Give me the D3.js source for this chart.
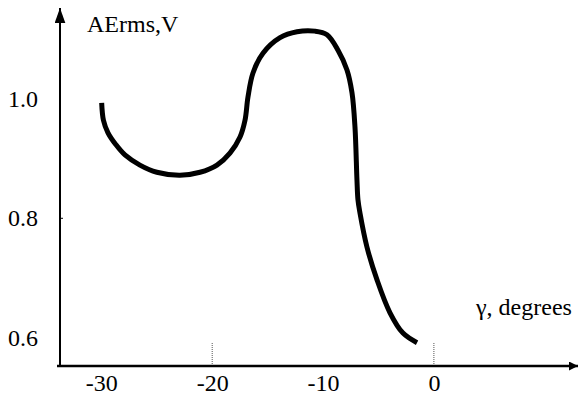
<!DOCTYPE html>
<html><head><meta charset="utf-8"><script src="https://cdn.jsdelivr.net/npm/d3@7"></script></head>
<body style="margin:0">
<svg id="s" width="581" height="396"></svg>
<script>
// ---- data ----
const gammaDeg = [-29.97, -29.81, -29.40, -28.68, -27.87, -26.52, -24.99, -22.91, -21.10, -19.57, -18.40,
                  -17.49, -17.04, -16.77, -16.32, -15.42, -13.88, -12.35, -10.73, -9.64, -8.65,
                  -7.84, -7.39, -7.12, -6.94, -6.85, -6.67, -6.04, -5.13, -3.96, -2.79, -1.52];
const aeRms    = [0.993, 0.964, 0.943, 0.923, 0.906, 0.889, 0.877, 0.872, 0.877, 0.889, 0.909,
                  0.936, 0.964, 1.003, 1.043, 1.076, 1.102, 1.112, 1.113, 1.107, 1.081,
                  1.048, 1.010, 0.953, 0.864, 0.831, 0.809, 0.752, 0.697, 0.642, 0.608, 0.592];
const xTickValues = [-30, -20, -10, 0];
const xTickLabels = ["-30", "-20", "-10", "0"];
const yTickValues = [0.6, 0.8, 1.0];
const yTickLabels = ["0.6", "0.8", "1.0"];
const dottedTicks = [-20, 0];
const yTitle = "AErms,V";
const xTitle = "\u03B3, degrees";

const FONT = '"Liberation Serif", serif';
const FS = "24px";
function serif(sel) {
  sel.attr("font-family", "Liberation Serif").attr("font-size", 24)
     .style("font-family", FONT, "important").style("font-size", FS, "important").attr("fill", "#000");
}

// ---- scales ----
const svg = d3.select("#s");
const x = d3.scaleLinear().domain([-34, 13]).range([57, 578]);
const y = d3.scaleLinear().domain([0.553, 1.15]).range([366, 9]);
const x0 = 60;
const yAxisPos = y(0.553);

// arrow markers
const defs = svg.append("defs");
defs.append("marker").attr("id", "arr").attr("viewBox", "0 0 10 10")
  .attr("refX", 10).attr("refY", 5).attr("markerWidth", 10).attr("markerHeight", 9)
  .attr("markerUnits", "userSpaceOnUse").attr("orient", "auto")
  .append("path").attr("d", "M0,0 L10,5 L0,10 Z").attr("fill", "#000");
defs.append("marker").attr("id", "arrY").attr("viewBox", "0 0 14 10")
  .attr("refX", 14).attr("refY", 5).attr("markerWidth", 15).attr("markerHeight", 11)
  .attr("markerUnits", "userSpaceOnUse").attr("orient", "auto")
  .append("path").attr("d", "M0,0 L14,5 L0,10 Z").attr("fill", "#000");

// dotted ticks
svg.append("g").selectAll("line").data(dottedTicks).join("line")
  .attr("x1", d => x(d)).attr("x2", d => x(d))
  .attr("y1", yAxisPos).attr("y2", y(0.593))
  .attr("stroke", "#555").attr("stroke-width", 1).attr("stroke-dasharray", "1,1");

// axis lines
svg.append("line").attr("x1", x(-34)).attr("x2", x(13))
  .attr("y1", yAxisPos).attr("y2", yAxisPos)
  .attr("stroke", "#000").attr("stroke-width", 2.5).attr("marker-end", "url(#arr)");
svg.append("line").attr("x1", x0).attr("x2", x0)
  .attr("y1", yAxisPos + 1).attr("y2", y(1.15) - 1)
  .attr("stroke", "#000").attr("stroke-width", 2).attr("marker-end", "url(#arrY)");
svg.append("line").attr("x1", x0).attr("x2", x0 + 3)
  .attr("y1", y(0.8)).attr("y2", y(0.8)).attr("stroke", "#000").attr("stroke-width", 1);

// tick labels via d3 axes
const xAxis = d3.axisBottom(x).tickValues(xTickValues)
  .tickFormat((d, i) => xTickLabels[i]).tickSize(0).tickPadding(8);
const gx = svg.append("g").attr("transform", `translate(0,${yAxisPos})`).call(xAxis);
gx.select(".domain").remove();
serif(gx);
serif(gx.selectAll("text"));

const yAxis = d3.axisLeft(y).tickValues(yTickValues)
  .tickFormat((d, i) => yTickLabels[i]).tickSize(0).tickPadding(22);
const gy = svg.append("g").attr("transform", `translate(${x0},0)`).call(yAxis);
gy.select(".domain").remove();
serif(gy);
serif(gy.selectAll("text"));

// titles
serif(svg.append("text").attr("x", 87).attr("y", 32).text(yTitle));
serif(svg.append("text").attr("x", 476).attr("y", 315).text(xTitle));

// curve
const pts = gammaDeg.map((g, i) => [g, aeRms[i]]);
const line = d3.line().x(d => x(d[0])).y(d => y(d[1])).curve(d3.curveCatmullRom.alpha(0.5));
svg.append("path").datum(pts).attr("d", line)
  .attr("fill", "none").attr("stroke", "#000").attr("stroke-width", 5)
  .attr("stroke-linejoin", "round").attr("stroke-linecap", "butt");
</script>
</body>
</html>
